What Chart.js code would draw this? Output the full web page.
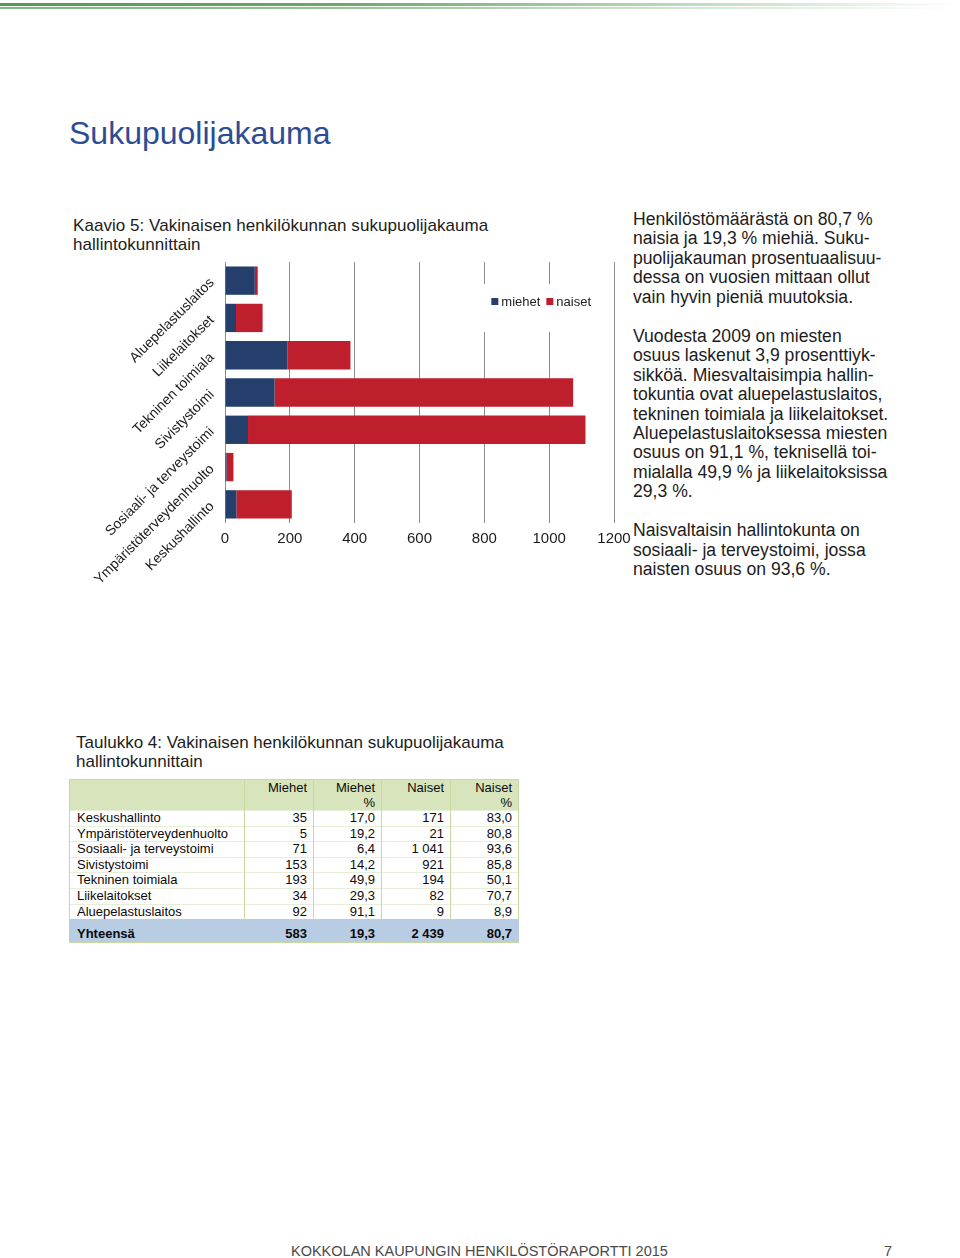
<!DOCTYPE html>
<html lang="fi">
<head>
<meta charset="utf-8">
<title>Sukupuolijakauma</title>
<script src="https://cdn.jsdelivr.net/npm/chart.js@4/dist/chart.umd.min.js"></script>
<style>
  html, body { margin: 0; padding: 0; background: #fff; }
  body { width: 960px; height: 1258px; position: relative; overflow: hidden;
         font-family: "Liberation Sans", Arial, Helvetica, sans-serif; color: #1c1c1c; }
  .abs { position: absolute; white-space: pre; }
  .bar1 { position: absolute; left: 0; top: 3px; width: 960px; height: 3px;
          background: linear-gradient(to right, #4f9d4f 0%, #66ab66 35%, #b9d9b9 70%, #ffffff 100%); }
  .bar2 { position: absolute; left: 0; top: 7px; width: 960px; height: 2px;
          background: linear-gradient(to right, #80b880 0%, #93c393 35%, #cfe5cf 70%, #ffffff 100%); }
  #title { left: 69px; top: 116px; font-size: 32px; line-height: 34px; color: #2c4d93; }
  #caption { left: 73px; top: 216px; font-size: 17px; line-height: 19px; letter-spacing: 0.05px; }
  #side { left: 633px; top: 210px; font-size: 17.6px; line-height: 19.45px; }
  #tcaption { left: 76px; top: 733px; font-size: 17px; line-height: 19px; }
  #wrap { position: absolute; left: 60px; top: 250px; width: 571px; height: 345px; }
  table { position: absolute; left: 69px; top: 779px; border-collapse: collapse; table-layout: fixed;
          font-size: 13px; color: #0a0a0a; }
  td { padding: 0 6px 0 7px; height: 14.6px; line-height: 14.6px; text-align: right; overflow: hidden;
       border-left: 1px solid #c5d9a0; border-right: 1px solid #c5d9a0; border-top: 1px solid #e6efd8; }
  td:first-child { text-align: left; }
  tr.head td { background: #d8e4bc; height: 28px; line-height: 15px; vertical-align: top; padding-top: 0;
               border-top: 1px solid #c5d9a0; }
  tr.total td { background: #b8cce4; font-weight: bold; height: 16px; padding-top: 6px; line-height: 15px;
                border-color: #b8cce4; border-bottom: 1px solid #c5d9a0; vertical-align: top; }
  #footer { left: 291px; top: 1243px; font-size: 14.5px; line-height: 16px; color: #4a4a4a; }
  #page { left: 884px; top: 1243px; font-size: 14.5px; line-height: 16px; color: #4a4a4a; }
</style>
</head>
<body>
<div class="bar1"></div>
<div class="bar2"></div>

<div id="title" class="abs">Sukupuolijakauma</div>
<div id="caption" class="abs">Kaavio 5: Vakinaisen henkilökunnan sukupuolijakauma
hallintokunnittain</div>

<div id="wrap"><canvas id="chart" width="571" height="345"></canvas></div>

<div id="side" class="abs">Henkilöstömäärästä on 80,7 %
naisia ja 19,3 % miehiä. Suku-
puolijakauman prosentuaalisuu-
dessa on vuosien mittaan ollut
vain hyvin pieniä muutoksia.

Vuodesta 2009 on miesten
osuus laskenut 3,9 prosenttiyk-
sikköä. Miesvaltaisimpia hallin-
tokuntia ovat aluepelastuslaitos,
tekninen toimiala ja liikelaitokset.
Aluepelastuslaitoksessa miesten
osuus on 91,1 %, teknisellä toi-
mialalla 49,9 % ja liikelaitoksissa
29,3 %.

Naisvaltaisin hallintokunta on
sosiaali- ja terveystoimi, jossa
naisten osuus on 93,6 %.</div>

<div id="tcaption" class="abs">Taulukko 4: Vakinaisen henkilökunnan sukupuolijakauma
hallintokunnittain</div>

<table id="table">
  <colgroup><col style="width:175px"><col style="width:69px"><col style="width:68px"><col style="width:69px"><col style="width:68px"></colgroup>
  <tbody id="table-body"></tbody>
</table>

<div id="footer" class="abs">KOKKOLAN KAUPUNGIN HENKILÖSTÖRAPORTTI 2015</div>
<div id="page" class="abs">7</div>

<script>
// hallintokunnat in table order (the chart shows them bottom-up)
const categories = ['Keskushallinto', 'Ympäristöterveydenhuolto', 'Sosiaali- ja terveystoimi',
  'Sivistystoimi', 'Tekninen toimiala', 'Liikelaitokset', 'Aluepelastuslaitos'];
const miehet = [35, 5, 71, 153, 193, 34, 92];
const naiset = [171, 21, 1041, 921, 194, 82, 9];
const miehetPct = ['17,0', '19,2', '6,4', '14,2', '49,9', '29,3', '91,1'];
const naisetPct = ['83,0', '80,8', '93,6', '85,8', '50,1', '70,7', '8,9'];
const headers = ['', 'Miehet', 'Miehet<br>%', 'Naiset', 'Naiset<br>%'];
const totals = ['Yhteensä', '583', '19,3', '2 439', '80,7'];
const xTicks = [0, 200, 400, 600, 800, 1000, 1200];
const seriesLabels = ['miehet', 'naiset'];
const seriesColors = ['#243f6c', '#bf1e2c'];

// table
const tbody = document.getElementById('table-body');
tbody.innerHTML = '<tr class="head">' + headers.map(h => `<td>${h}</td>`).join('') + '</tr>';
categories.forEach((c, i) => {
  tbody.innerHTML += `
    <tr>
      <td>${c}</td>
      <td>${miehet[i]}</td>
      <td>${miehetPct[i]}</td>
      <td>${naiset[i].toLocaleString('fi-FI').replace(/\s/g, ' ')}</td>
      <td>${naisetPct[i]}</td>
    </tr>`;
});
tbody.innerHTML += '<tr class="total">' + totals.map(t => `<td>${t}</td>`).join('') + '</tr>';

// legend drawn inside the plot, on a white box like the original
const legendBox = {
  id: 'legendBox',
  afterDraw(chart) {
    const ctx = chart.ctx;
    const left = chart.scales.x.getPixelForValue(800) - 1;
    const top = chart.chartArea.top;
    ctx.save();
    ctx.fillStyle = '#ffffff';
    ctx.fillRect(left, top + 22, 121, 48);
    ctx.font = '13px "Liberation Sans", Arial, sans-serif';
    ctx.textBaseline = 'middle';
    let cx = left + 8;
    const cy = top + 40;
    chart.data.datasets.forEach(ds => {
      ctx.fillStyle = ds.backgroundColor;
      ctx.fillRect(cx, cy - 4, 7, 7);
      cx += 10;
      ctx.fillStyle = '#222';
      ctx.fillText(ds.label, cx, cy);
      cx += ctx.measureText(ds.label).width + 6;
    });
    ctx.restore();
  }
};

const ctx = document.getElementById('chart').getContext('2d');
new Chart(ctx, {
  type: 'bar',
  data: {
    labels: categories.slice().reverse(),
    datasets: [
      { label: seriesLabels[0], data: miehet.slice().reverse(), backgroundColor: seriesColors[0] },
      { label: seriesLabels[1], data: naiset.slice().reverse(), backgroundColor: seriesColors[1] }
    ]
  },
  options: {
    indexAxis: 'y',
    responsive: false,
    animation: false,
    layout: { padding: { top: 12, bottom: 40, left: 0, right: 17 } },
    datasets: { bar: { barPercentage: 0.76, categoryPercentage: 1 } },
    plugins: { legend: { display: false }, tooltip: { enabled: false } },
    scales: {
      x: {
        stacked: true,
        min: xTicks[0],
        max: xTicks[xTicks.length - 1],
        afterBuildTicks: scale => { scale.ticks = xTicks.map(v => ({ value: v })); },
        afterFit: scale => { scale.paddingLeft = 0; scale.paddingRight = 0; },
        ticks: {
          padding: 7, color: '#1a1a1a',
          callback: value => String(value),
          font: { family: '"Liberation Sans", Arial, sans-serif', size: 15 }
        },
        grid: { color: '#8c8c8c', lineWidth: 1, drawTicks: false },
        border: { display: false }
      },
      y: {
        stacked: true,
        afterFit: scale => { scale.width = 165; scale.paddingTop = 0; scale.paddingBottom = 0; },
        ticks: {
          minRotation: 45, maxRotation: 45, padding: 13, color: '#1a1a1a',
          font: { family: '"Liberation Sans", Arial, sans-serif', size: 14 }
        },
        grid: { display: false, drawTicks: false },
        border: { display: false }
      }
    }
  },
  plugins: [legendBox]
});
</script>
</body>
</html>
